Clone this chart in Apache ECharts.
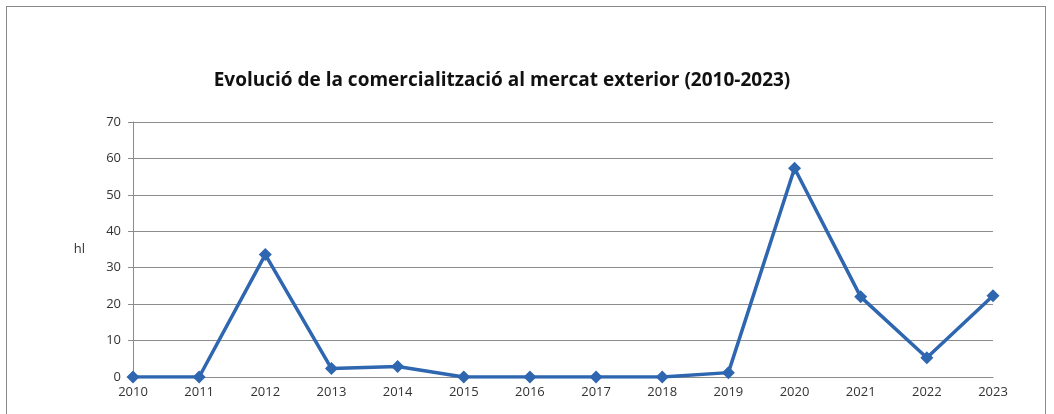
<!DOCTYPE html>
<html><head><meta charset="utf-8">
<script src="https://cdn.jsdelivr.net/npm/echarts@6/dist/echarts.min.js"></script>
<style>html,body{margin:0;padding:0;background:#fff}#c{width:1054px;height:414px}
#frame{position:absolute;left:6px;top:6px;width:1040px;height:420px;border:1px solid #8a8a8a;box-sizing:border-box;pointer-events:none}</style>
</head><body>
<div id="c"></div><div id="frame"></div>
<script>
const categories = ['2010','2011','2012','2013','2014','2015','2016','2017','2018','2019','2020','2021','2022','2023'];
const values = [0, 0, 33.6, 2.3, 2.9, 0, 0, 0, 0, 1.2, 57.3, 22.0, 5.3, 22.3];
const yTicks = [0, 10, 20, 30, 40, 50, 60, 70];
const chart = echarts.init(document.getElementById('c'));
chart.setOption({
  animation: false,
  title: {
    text: 'Evolució de la comercialització al mercat exterior (2010-2023)',
    left: 497, top: 66, textAlign: 'center',
    textStyle: { fontFamily: 'Open Sans', fontWeight: 'bold', fontSize: 19, color: '#111' }
  },
  grid: { left: 133, right: 61, top: 122, bottom: 37 },
  xAxis: {
    type: 'category', data: categories, boundaryGap: false,
    axisLine: { lineStyle: { color: '#8c8c8c', width: 1 } },
    axisTick: { show: false },
    axisLabel: { fontFamily: 'Open Sans', fontSize: 13, color: '#333', margin: 9 },
    splitLine: { show: false }
  },
  yAxis: {
    type: 'value', min: yTicks[0], max: yTicks[yTicks.length-1], interval: 10,
    name: 'hl', nameLocation: 'middle', nameRotate: 0, nameGap: 48,
    nameTextStyle: { fontFamily: 'Open Sans', fontSize: 13, color: '#333' },
    axisLine: { show: true, lineStyle: { color: '#8c8c8c', width: 1 } },
    axisTick: { show: true, length: 5, lineStyle: { color: '#8c8c8c' } },
    axisLabel: { fontFamily: 'Open Sans', fontSize: 13, color: '#333', margin: 12 },
    splitLine: { lineStyle: { color: '#8c8c8c', width: 1 } }
  },
  series: [{
    type: 'line', data: values,
    symbol: 'diamond', symbolSize: 13,
    lineStyle: { color: '#2e66b0', width: 3.5 },
    itemStyle: { color: '#2e66b0' }
  }]
});
</script>
</body></html>
